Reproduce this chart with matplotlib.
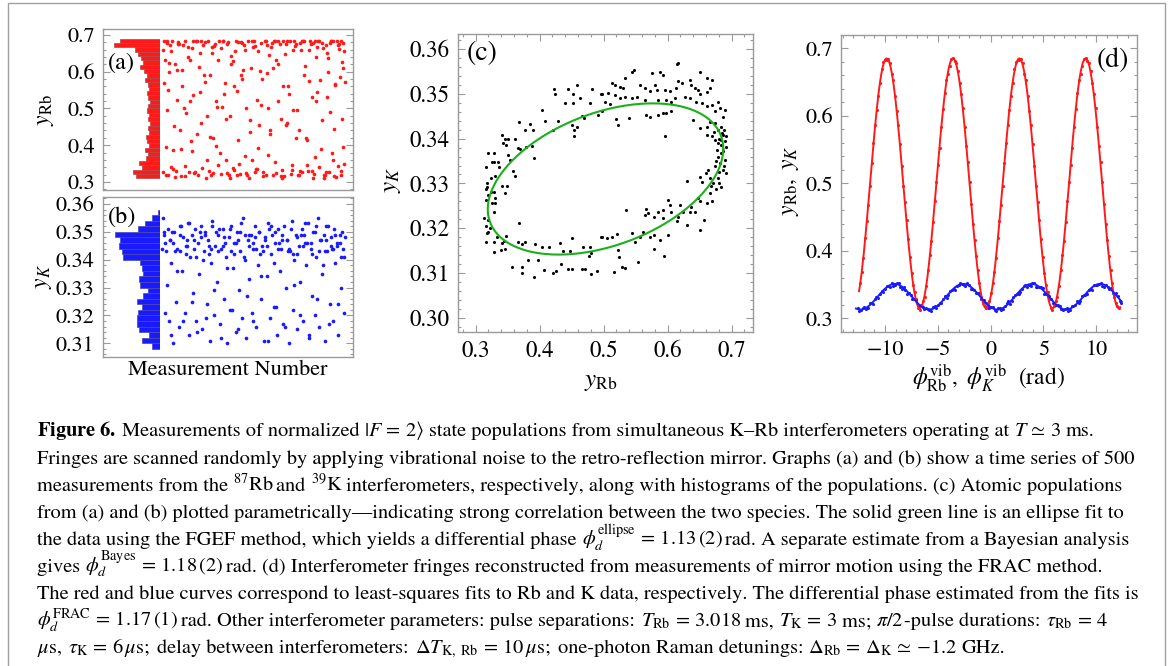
import numpy as np
import matplotlib
matplotlib.use('Agg')
import matplotlib.pyplot as plt
from matplotlib.ticker import MultipleLocator, FormatStrFormatter
from matplotlib.patches import Rectangle

plt.rcParams['font.family'] = 'STIXGeneral'
plt.rcParams['mathtext.fontset'] = 'stix'

W, H = 1168, 666

# ---------------- data ----------------
# (a) Rb time series: measurement number, population
a_meas = [13, 26, 20, 40, 8, 17, 13, 10, 4, 17, 36, 31, 40, 49, 58, 54, 67, 63, 77, 86, 81, 90,
          95, 104, 108, 118, 122, 131, 136, 140, 149, 154, 159, 168, 172, 177, 186, 195, 200, 204,
          209, 218, 222, 231, 241, 245, 250, 259, 263, 272, 277, 286, 295, 300, 304, 313, 318, 327,
          332, 341, 345, 354, 359, 368, 377, 382, 391, 395, 404, 409, 418, 423, 432, 436, 445, 450,
          459, 464, 473, 477, 482, 491, 496, 494,
          5, 22, 30, 45, 52, 70, 74, 84, 99, 112, 115, 126, 128, 145, 152, 162, 165, 180, 183, 190,
          198, 208, 212, 226, 228, 235, 238, 255, 258, 268, 281, 284, 292, 308, 310, 322, 325, 336,
          338, 350, 352, 364, 372, 386, 388, 398, 412, 414, 428, 430, 440, 448, 455, 466, 470, 480,
          486, 488, 498, 500, 60, 105, 140, 175, 215, 265, 290, 330, 375, 420, 460, 492,
          3, 11, 19, 27, 33, 39, 47, 56, 62, 72, 79, 88, 93, 101, 110, 119, 124, 133, 138, 147,
          156, 161, 170, 178, 186, 193, 203, 210, 219, 224, 233, 240, 247, 253, 262, 270, 276, 283,
          289, 297, 303, 311, 316, 324, 333, 340, 347, 356, 361, 367, 374, 380, 389, 396, 402, 407,
          416, 421, 426, 434, 442, 447, 452, 457, 463, 471, 476, 484, 489, 497,
          7, 15, 24, 35, 43, 51, 64, 76, 83, 97, 107, 121, 131, 143, 150, 167, 174, 188, 196, 206,
          217, 229, 243, 251, 260, 274, 287, 295, 306, 318, 328, 343, 357, 366, 378, 384, 393, 401,
          411, 419, 425, 438, 444, 453, 461, 468, 474, 483, 490, 495]
a_yrb = [0.677, 0.655, 0.623, 0.605, 0.632, 0.550, 0.496, 0.396, 0.328, 0.319, 0.314, 0.387, 0.523,
         0.441, 0.673, 0.605, 0.487, 0.342, 0.632, 0.537, 0.383, 0.328, 0.682, 0.650, 0.460, 0.573,
         0.360, 0.423, 0.668, 0.324, 0.519, 0.632, 0.378, 0.682, 0.568, 0.324, 0.478, 0.337, 0.655,
         0.546, 0.414, 0.677, 0.605, 0.324, 0.469, 0.360, 0.668, 0.523, 0.392, 0.677, 0.328, 0.596,
         0.441, 0.677, 0.319, 0.632, 0.519, 0.333, 0.682, 0.460, 0.560, 0.346, 0.659, 0.496, 0.677,
         0.328, 0.614, 0.414, 0.682, 0.532, 0.369, 0.668, 0.578, 0.469, 0.319, 0.650, 0.677, 0.378,
         0.564, 0.682, 0.342, 0.627, 0.677, 0.396,
         0.684, 0.672, 0.335, 0.680, 0.317, 0.640, 0.326, 0.682, 0.318, 0.673, 0.592, 0.684, 0.330,
         0.676, 0.345, 0.664, 0.505, 0.681, 0.318, 0.620, 0.333, 0.680, 0.322, 0.660, 0.370, 0.684,
         0.310, 0.671, 0.336, 0.602, 0.683, 0.320, 0.645, 0.683, 0.355, 0.674, 0.317, 0.648, 0.455,
         0.684, 0.322, 0.671, 0.318, 0.683, 0.590, 0.330, 0.678, 0.312, 0.684, 0.340, 0.665, 0.326,
         0.600, 0.684, 0.315, 0.672, 0.585, 0.330, 0.655, 0.572, 0.500, 0.545, 0.420, 0.470, 0.590,
         0.455, 0.500, 0.560, 0.440, 0.520, 0.490, 0.470,
         0.660, 0.318, 0.600, 0.684, 0.452, 0.330, 0.676, 0.560, 0.315, 0.668, 0.412, 0.325, 0.684,
         0.612, 0.338, 0.680, 0.480, 0.318, 0.650, 0.398, 0.683, 0.322, 0.540, 0.676, 0.312, 0.630,
         0.684, 0.350, 0.580, 0.672, 0.320, 0.436, 0.682, 0.328, 0.655, 0.510, 0.317, 0.684, 0.372,
         0.668, 0.610, 0.325, 0.684, 0.470, 0.316, 0.676, 0.540, 0.333, 0.682, 0.420, 0.318, 0.660,
         0.684, 0.345, 0.575, 0.676, 0.321, 0.640, 0.684, 0.390, 0.318, 0.672, 0.530, 0.328, 0.683,
         0.445, 0.314, 0.662, 0.684, 0.350,
         0.570, 0.683, 0.340, 0.620, 0.676, 0.390, 0.684, 0.520, 0.664, 0.430, 0.682, 0.312, 0.590,
         0.670, 0.505, 0.684, 0.360, 0.642, 0.560, 0.318, 0.680, 0.500, 0.611, 0.684, 0.335, 0.580,
         0.672, 0.430, 0.684, 0.622, 0.312, 0.684, 0.495, 0.675, 0.330, 0.684, 0.420, 0.660, 0.330,
         0.683, 0.545, 0.678, 0.312, 0.636, 0.684, 0.360, 0.566, 0.676, 0.318, 0.610]

# (a) histogram of y_Rb (counts per bin, bottom to top)
a_hist_counts = [24, 27, 18, 21, 14, 12, 15, 11, 13, 14, 11, 12, 10, 12, 11, 13,
                 12, 10, 12, 13, 11, 12, 15, 13, 16, 20, 17, 19, 22, 25, 46, 40]
a_hist_range = (0.31, 0.69)

# (b) K time series
b_meas = (list(range(2, 500, 4)) + [500] + list(range(8, 489, 20)) +
          [1, 9, 17, 25, 31, 41, 49, 57, 65, 73, 81, 87, 97, 105, 113, 121, 129, 137, 143, 153,
           161, 169, 177, 185, 191, 201, 209, 217, 225, 233, 239, 249, 257, 265, 271, 281, 289,
           297, 305, 311, 321, 329, 335, 345, 353, 361, 369, 377, 385, 391, 401, 409, 417, 425,
           433, 439, 449, 457, 465, 473, 481, 487, 497,
           5, 21, 37, 53, 69, 93, 117, 133, 157, 173, 197, 213, 237, 253, 277, 293, 317, 341,
           357, 381, 397, 421, 445, 461, 477, 493])
b_yk = [0.355, 0.349, 0.343, 0.331, 0.318, 0.347, 0.339, 0.310, 0.350, 0.325, 0.344, 0.316, 0.352,
        0.336, 0.348, 0.321, 0.345, 0.353, 0.313, 0.341, 0.349, 0.328, 0.351, 0.318, 0.346, 0.335,
        0.352, 0.315, 0.343, 0.350, 0.324, 0.347, 0.311, 0.339, 0.354, 0.320, 0.345, 0.332, 0.349,
        0.317, 0.344, 0.351, 0.326, 0.341, 0.310, 0.348, 0.322, 0.352, 0.337, 0.346, 0.314, 0.350,
        0.329, 0.343, 0.319, 0.355, 0.340, 0.312, 0.347, 0.333, 0.349, 0.321, 0.344, 0.352, 0.316,
        0.338, 0.350, 0.326, 0.345, 0.311, 0.348, 0.334, 0.353, 0.319, 0.342, 0.349, 0.323, 0.346,
        0.313, 0.351, 0.336, 0.344, 0.317, 0.352, 0.330, 0.347, 0.310, 0.343, 0.354, 0.322, 0.340,
        0.349, 0.315, 0.345, 0.332, 0.351, 0.318, 0.346, 0.338, 0.353, 0.312, 0.344, 0.327, 0.350,
        0.320, 0.341, 0.355, 0.316, 0.347, 0.335, 0.349, 0.311, 0.343, 0.352, 0.324, 0.345, 0.318,
        0.351, 0.339, 0.346, 0.313, 0.349, 0.330, 0.344, 0.321, 0.348,
        0.346, 0.350, 0.343, 0.347, 0.344, 0.348, 0.342, 0.350, 0.345, 0.343, 0.347, 0.349, 0.346,
        0.342, 0.345, 0.350, 0.347, 0.344, 0.342, 0.349, 0.346, 0.343, 0.347, 0.344, 0.341,
        0.344, 0.321, 0.351, 0.313, 0.346, 0.336, 0.349, 0.318, 0.342, 0.353, 0.325, 0.347, 0.314,
        0.350, 0.340, 0.319, 0.345, 0.352, 0.329, 0.343, 0.312, 0.348, 0.337, 0.351, 0.322, 0.346,
        0.315, 0.353, 0.341, 0.327, 0.349, 0.318, 0.344, 0.350, 0.334, 0.347, 0.311, 0.352, 0.339,
        0.323, 0.346, 0.349, 0.316, 0.343, 0.351, 0.331, 0.348, 0.320, 0.345, 0.353, 0.313, 0.342,
        0.350, 0.326, 0.347, 0.338, 0.352, 0.317, 0.344, 0.349, 0.324, 0.346, 0.341,
        0.350, 0.347, 0.343, 0.352, 0.345, 0.341, 0.349, 0.344, 0.351, 0.346, 0.342, 0.350, 0.345,
        0.348, 0.343, 0.351, 0.344, 0.347, 0.342, 0.349, 0.346, 0.352, 0.343, 0.348, 0.345, 0.350]

# (b) histogram of y_K (bottom to top)
b_hist_counts = [8, 18, 11, 21, 23, 23, 22, 18, 23, 17, 12, 20, 21, 17, 18, 20,
                 37, 38, 41, 40, 45, 22, 15, 8, 2]
b_hist_range = (0.308, 0.358)

# (c) parametric plot: pairs (y_Rb, y_K)
c_yrb = [0.424, 0.422, 0.445, 0.452, 0.459, 0.439, 0.452, 0.463, 0.482, 0.496, 0.404, 0.408, 0.428,
         0.421, 0.368, 0.385, 0.377, 0.389, 0.361, 0.367, 0.341, 0.346, 0.350, 0.343, 0.348, 0.369,
         0.379, 0.388, 0.391, 0.351, 0.354, 0.320, 0.329, 0.326, 0.329, 0.316, 0.335, 0.337, 0.331,
         0.324, 0.341, 0.359, 0.361, 0.349, 0.346, 0.318, 0.318, 0.317, 0.319, 0.317, 0.324, 0.329,
         0.331, 0.326, 0.330, 0.328, 0.313, 0.320, 0.317, 0.322, 0.320, 0.318, 0.368, 0.316, 0.329,
         0.334, 0.341, 0.345, 0.348, 0.328, 0.339, 0.346, 0.366, 0.377, 0.373, 0.393, 0.404, 0.414,
         0.432, 0.437, 0.447, 0.451, 0.468, 0.479, 0.496, 0.357, 0.372, 0.372, 0.382, 0.397, 0.391,
         0.407, 0.421, 0.426, 0.434, 0.445, 0.450, 0.467, 0.471, 0.481, 0.477, 0.480, 0.490, 0.450,
         0.454, 0.459, 0.454, 0.466, 0.470, 0.491, 0.498, 0.479,
         0.617, 0.614, 0.548, 0.545, 0.533, 0.575, 0.588, 0.593, 0.650, 0.661, 0.670, 0.513, 0.518,
         0.526, 0.531, 0.497, 0.507, 0.518, 0.557, 0.565, 0.572, 0.580, 0.583, 0.596, 0.603, 0.613,
         0.617, 0.622, 0.635, 0.637, 0.643, 0.648, 0.650, 0.661, 0.666, 0.526, 0.533, 0.544, 0.552,
         0.565, 0.502, 0.510, 0.585, 0.598, 0.606, 0.611, 0.627, 0.635, 0.645, 0.653, 0.661, 0.669,
         0.674, 0.679, 0.682, 0.686, 0.690, 0.567, 0.572, 0.585, 0.593, 0.598, 0.606, 0.520, 0.523,
         0.539, 0.639, 0.650, 0.662, 0.666, 0.674, 0.679, 0.684, 0.596, 0.662, 0.669, 0.674, 0.679,
         0.684, 0.687, 0.688, 0.691, 0.677, 0.684, 0.690, 0.682, 0.674, 0.687, 0.692, 0.650, 0.653,
         0.660, 0.666, 0.671, 0.679, 0.684, 0.631, 0.666, 0.670, 0.661, 0.648, 0.650, 0.637, 0.643,
         0.635, 0.619, 0.624, 0.617, 0.601, 0.604, 0.593, 0.606, 0.614, 0.630, 0.650, 0.657, 0.567,
         0.570, 0.565, 0.578, 0.585, 0.593, 0.535, 0.562, 0.572, 0.578, 0.588, 0.601, 0.544, 0.549,
         0.557, 0.578, 0.594, 0.523, 0.524, 0.528, 0.533, 0.517, 0.554, 0.497, 0.505, 0.513, 0.521,
         0.680, 0.683, 0.686, 0.678, 0.688, 0.680, 0.676, 0.685, 0.672, 0.689, 0.675, 0.668, 0.681,
         0.663, 0.691]
c_yk = [0.3500, 0.3510, 0.3510, 0.3500, 0.3520, 0.3480, 0.3480, 0.3490, 0.3510, 0.3500, 0.3464,
        0.3440, 0.3440, 0.3420, 0.3438, 0.3432, 0.3420, 0.3420, 0.3400, 0.3380, 0.3408, 0.3400,
        0.3400, 0.3390, 0.3386, 0.3378, 0.3382, 0.3384, 0.3356, 0.3364, 0.3353, 0.3369, 0.3368,
        0.3347, 0.3347, 0.3336, 0.3347, 0.3336, 0.3317, 0.3312, 0.3295, 0.3327, 0.3316, 0.3295,
        0.3278, 0.3302, 0.3293, 0.3287, 0.3274, 0.3263, 0.3280, 0.3280, 0.3267, 0.3256, 0.3257,
        0.3237, 0.3222, 0.3218, 0.3205, 0.3200, 0.3192, 0.3189, 0.3212, 0.3170, 0.3170, 0.3180,
        0.3166, 0.3172, 0.3183, 0.3147, 0.3151, 0.3154, 0.3170, 0.3170, 0.3165, 0.3165, 0.3159,
        0.3157, 0.3167, 0.3150, 0.3148, 0.3177, 0.3159, 0.3157, 0.3181, 0.3114, 0.3114, 0.3099,
        0.3129, 0.3129, 0.3090, 0.3107, 0.3100, 0.3105, 0.3120, 0.3108, 0.3108, 0.3108, 0.3108,
        0.3097, 0.3138, 0.3144, 0.3105, 0.3431, 0.3420, 0.3426, 0.3406, 0.3450, 0.3446, 0.3453,
        0.3462, 0.3479,
        0.3570, 0.3566, 0.3554, 0.3550, 0.3535, 0.3546, 0.3548, 0.3543, 0.3550, 0.3535, 0.3531,
        0.3524, 0.3520, 0.3516, 0.3513, 0.3500, 0.3502, 0.3498, 0.3520, 0.3513, 0.3507, 0.3520,
        0.3509, 0.3509, 0.3507, 0.3513, 0.3528, 0.3524, 0.3531, 0.3520, 0.3513, 0.3509, 0.3500,
        0.3505, 0.3513, 0.3490, 0.3494, 0.3490, 0.3494, 0.3487, 0.3483, 0.3478, 0.3487, 0.3487,
        0.3483, 0.3490, 0.3494, 0.3490, 0.3483, 0.3479, 0.3472, 0.3475, 0.3461, 0.3483, 0.3468,
        0.3449, 0.3464, 0.3453, 0.3449, 0.3453, 0.3457, 0.3457, 0.3461, 0.3443, 0.3431, 0.3446,
        0.3442, 0.3423, 0.3427, 0.3438, 0.3435, 0.3420, 0.3427, 0.3405, 0.3408, 0.3405, 0.3397,
        0.3390, 0.3397, 0.3408, 0.3420, 0.3382, 0.3375, 0.3367, 0.3352, 0.3345, 0.3338, 0.3330,
        0.3323, 0.3315, 0.3304, 0.3323, 0.3312, 0.3300, 0.3312, 0.3293, 0.3306, 0.3278, 0.3260,
        0.3256, 0.3267, 0.3260, 0.3248, 0.3237, 0.3237, 0.3252, 0.3237, 0.3226, 0.3263, 0.3252,
        0.3241, 0.3237, 0.3215, 0.3207, 0.3196, 0.3218, 0.3244, 0.3233, 0.3229, 0.3226, 0.3237,
        0.3222, 0.3241, 0.3192, 0.3181, 0.3185, 0.3174, 0.3185, 0.3189, 0.3170, 0.3181, 0.3153,
        0.3138, 0.3151, 0.3136, 0.3114, 0.3110, 0.3103, 0.3125, 0.3181, 0.3177, 0.3181, 0.3187,
        0.3400, 0.3385, 0.3372, 0.3360, 0.3340, 0.3325, 0.3350, 0.3412, 0.3415, 0.3395, 0.3288,
        0.3295, 0.3302, 0.3330, 0.3405]

# (c) ellipse fit: centre, amplitudes and differential phase
ell_x0, ell_y0 = 0.503, 0.331
ell_ax, ell_ay = 0.184, 0.0169
ell_phid = 1.16

# (d) fringes vs vibration phase
d_rb_phi = [-12.36, -12.05, -11.73, -11.42, -11.10, -10.79, -10.47, -10.16, -9.85, -9.53, -9.22,
            -8.90, -8.59, -8.27, -7.96, -7.65, -7.33, -7.02, -6.70, -6.39, -6.08, -5.76, -5.45,
            -5.13, -4.82, -4.50, -4.19, -3.88, -3.56, -3.25, -2.93, -2.62, -2.31, -1.99, -1.68,
            -1.36, -1.05, -0.73, -0.42, -0.11, 0.21, 0.52, 0.84, 1.15, 1.46, 1.78, 2.09, 2.41,
            2.72, 3.04, 3.35, 3.66, 3.98, 4.29, 4.61, 4.92, 5.24, 5.55, 5.86, 6.18, 6.49, 6.81,
            7.12, 7.44, 7.75, 8.06, 8.38, 8.69, 9.01, 9.32, 9.63, 9.95, 10.26, 10.58, 10.89, 11.21,
            11.52, 11.84, 12.15,
            -12.20, -11.89, -11.57, -11.26, -10.94, -10.63, -10.31, -10.00, -9.69, -9.37, -9.06,
            -8.74, -8.43, -8.11, -7.80, -7.49, -7.17, -6.86, -6.54, -6.23, -5.92, -5.60, -5.29,
            -4.97, -4.66, -4.34, -4.03, -3.72, -3.40, -3.09, -2.77, -2.46, -2.15, -1.83, -1.52,
            -1.20, -0.89, -0.57, -0.26, 0.05, 0.37, 0.68, 1.00, 1.31, 1.63, 1.94, 2.25, 2.57,
            2.88, 3.20, 3.51, 3.83, 4.14, 4.45, 4.77, 5.08, 5.40, 5.71, 6.03, 6.34, 6.65, 6.97,
            7.28, 7.60, 7.91, 8.23, 8.54, 8.86, 9.17, 9.48, 9.80, 10.11, 10.43, 10.74, 11.06,
            11.37, 11.69, 12.00]
d_rb_y = [0.353, 0.389, 0.444, 0.496, 0.559, 0.609, 0.649, 0.680, 0.682, 0.678, 0.653, 0.607,
          0.558, 0.496, 0.445, 0.391, 0.349, 0.328, 0.312, 0.326, 0.348, 0.394, 0.442, 0.502,
          0.553, 0.610, 0.653, 0.674, 0.685, 0.678, 0.648, 0.612, 0.556, 0.502, 0.439, 0.392,
          0.353, 0.322, 0.315, 0.326, 0.353, 0.389, 0.444, 0.496, 0.559, 0.609, 0.649, 0.680,
          0.682, 0.678, 0.653, 0.607, 0.558, 0.496, 0.445, 0.391, 0.349, 0.328, 0.312, 0.326,
          0.348, 0.394, 0.442, 0.502, 0.553, 0.610, 0.653, 0.674, 0.685, 0.678, 0.648, 0.612,
          0.556, 0.502, 0.439, 0.392, 0.353, 0.322, 0.315,
          0.368, 0.419, 0.468, 0.530, 0.586, 0.629, 0.669, 0.682, 0.684, 0.662, 0.630, 0.587,
          0.526, 0.472, 0.418, 0.367, 0.339, 0.316, 0.318, 0.332, 0.371, 0.415, 0.474, 0.527,
          0.584, 0.634, 0.662, 0.684, 0.681, 0.667, 0.633, 0.583, 0.532, 0.469, 0.416, 0.372,
          0.332, 0.318, 0.315, 0.337, 0.368, 0.419, 0.468, 0.530, 0.586, 0.629, 0.669, 0.682,
          0.684, 0.662, 0.630, 0.587, 0.526, 0.472, 0.418, 0.367, 0.339, 0.316, 0.318, 0.332,
          0.371, 0.415, 0.474, 0.527, 0.584, 0.634, 0.662, 0.684, 0.681, 0.667, 0.633, 0.583,
          0.532, 0.469, 0.416, 0.372, 0.332, 0.318]

d_k_phi = [-12.60, -12.28, -11.95, -11.63, -11.30, -10.98, -10.65, -10.33, -10.00, -9.68, -9.36,
           -9.03, -8.71, -8.38, -8.06, -7.73, -7.41, -7.08, -6.76, -6.43, -6.11, -5.79, -5.46,
           -5.14, -4.81, -4.49, -4.16, -3.84, -3.51, -3.19, -2.87, -2.54, -2.22, -1.89, -1.57,
           -1.24, -0.92, -0.59, -0.27, 0.06, 0.38, 0.70, 1.03, 1.35, 1.68, 2.00, 2.33, 2.65,
           2.98, 3.30, 3.63, 3.95, 4.27, 4.60, 4.92, 5.25, 5.57, 5.90, 6.22, 6.55, 6.87, 7.20,
           7.52, 7.84, 8.17, 8.49, 8.82, 9.14, 9.47, 9.79, 10.12, 10.44, 10.77, 11.09, 11.41,
           11.74, 12.06, 12.39,
           -12.44, -12.12, -11.79, -11.47, -11.14, -10.82, -10.49, -10.17, -9.84, -9.52, -9.20,
           -8.87, -8.55, -8.22, -7.90, -7.57, -7.25, -6.92, -6.60, -6.27, -5.95, -5.63, -5.30,
           -4.98, -4.65, -4.33, -4.00, -3.68, -3.35, -3.03, -2.71, -2.38, -2.06, -1.73, -1.41,
           -1.08, -0.76, -0.43, -0.11, 0.22, 0.54, 0.86, 1.19, 1.51, 1.84, 2.16, 2.49, 2.81,
           3.14, 3.46, 3.79, 4.11, 4.43, 4.76, 5.08, 5.41, 5.73, 6.06, 6.38, 6.71, 7.03, 7.36,
           7.68, 8.00, 8.33, 8.65, 8.98, 9.30, 9.63, 9.95, 10.28, 10.60, 10.93, 11.25, 11.57,
           11.90, 12.22]
d_k_y = [0.316, 0.312, 0.317, 0.315, 0.322, 0.328, 0.330, 0.341, 0.343, 0.348, 0.352, 0.350,
         0.352, 0.344, 0.342, 0.338, 0.328, 0.327, 0.319, 0.317, 0.316, 0.312, 0.317, 0.315,
         0.322, 0.328, 0.330, 0.341, 0.343, 0.348, 0.352, 0.350, 0.352, 0.344, 0.342, 0.338,
         0.328, 0.327, 0.319, 0.317, 0.313, 0.315, 0.312, 0.318, 0.325, 0.326, 0.335, 0.336,
         0.344, 0.349, 0.349, 0.353, 0.347, 0.347, 0.345, 0.336, 0.333, 0.322, 0.320, 0.318,
         0.313, 0.315, 0.312, 0.318, 0.325, 0.326, 0.335, 0.336, 0.344, 0.349, 0.349, 0.353,
         0.347, 0.347, 0.345, 0.336, 0.333, 0.322,
         0.311, 0.316, 0.314, 0.322, 0.321, 0.331, 0.336, 0.339, 0.348, 0.347, 0.348, 0.352,
         0.346, 0.347, 0.336, 0.335, 0.328, 0.320, 0.320, 0.314, 0.314, 0.311, 0.318, 0.320,
         0.323, 0.333, 0.334, 0.342, 0.342, 0.350, 0.351, 0.348, 0.349, 0.344, 0.338, 0.337,
         0.326, 0.323, 0.315, 0.317, 0.311, 0.316, 0.314, 0.322, 0.321, 0.331, 0.336, 0.339,
         0.348, 0.347, 0.348, 0.352, 0.346, 0.347, 0.336, 0.335, 0.328, 0.320, 0.320, 0.314,
         0.314, 0.311, 0.318, 0.320, 0.323, 0.333, 0.334, 0.342, 0.342, 0.350, 0.351, 0.348,
         0.349, 0.344, 0.338, 0.337, 0.326]

# (d) least-squares sinusoid fits: offset, amplitude, frequency, peak phase, range
rb_fit = dict(off=0.500, amp=0.185, k=1.0, peak=2.72, lo=-12.46, hi=12.27)
k_fit = dict(off=0.332, amp=0.019, k=0.968, peak=3.90, lo=-12.75, hi=12.43)

caption = [
    r"$\mathbf{Figure\ 6.}$ Measurements of normalized $|F\, =\, 2\rangle$ state populations from simultaneous K–Rb interferometers operating at $T\,\simeq\,3$ ms.",
    "Fringes are scanned randomly by applying vibrational noise to the retro-reflection mirror. Graphs (a) and (b) show a time series of 500",
    r"measurements from the $^{87}\mathrm{Rb}$ and $^{39}\mathrm{K}$ interferometers, respectively, along with histograms of the populations. (c) Atomic populations",
    "from (a) and (b) plotted parametrically—indicating strong correlation between the two species. The solid green line is an ellipse fit to",
    r"the data using the FGEF method, which yields a differential phase $\phi_d^{\mathrm{ellipse}}\, =\, 1.13\,(2)$ rad. A separate estimate from a Bayesian analysis",
    r"gives $\phi_d^{\mathrm{Bayes}}\, =\, 1.18\,(2)$ rad. (d) Interferometer fringes reconstructed from measurements of mirror motion using the FRAC method.",
    "The red and blue curves correspond to least-squares fits to Rb and K data, respectively. The differential phase estimated from the fits is",
    r"$\phi_d^{\mathrm{FRAC}}\, =\, 1.17\,(1)$ rad. Other interferometer parameters: pulse separations: $T_{\mathrm{Rb}}\, =\, 3.018$ ms, $T_{\mathrm{K}}\, =\, 3$ ms; $\pi/2$-pulse durations: $\tau_{\mathrm{Rb}}\, =\, 4$",
    r"$\mu\mathrm{s},$ $\tau_{\mathrm{K}}\, =\, 6\,\mu\mathrm{s};$ delay between interferometers: $\Delta T_{\mathrm{K,\ Rb}}\, =\, 10\,\mu\mathrm{s};$ one-photon Raman detunings: $\Delta_{\mathrm{Rb}}\, =\, \Delta_{\mathrm{K}}\, \simeq\,{-1.2}$ GHz.",
]

# ---------------- layout helpers ----------------
FRAME = '#9a9a9a'
RED, BLUE, GREEN = '#ff1a1a', '#1a1aff', '#19b019'


def box(l, t, r, b):
    return [l / W, 1 - b / H, (r - l) / W, (b - t) / H]


def fpt(x, y):
    return x / W, 1 - y / H


def style(ax, xminor=None, yminor=None, xticks=True):
    for s in ax.spines.values():
        s.set_color(FRAME)
        s.set_linewidth(1.0)
    ax.tick_params(which='both', direction='in', colors=FRAME, labelcolor='black',
                   top=True, right=True, labelsize=16, width=0.8)
    ax.tick_params(which='major', length=5, pad=6)
    ax.tick_params(which='minor', length=2.5)
    if xminor:
        ax.xaxis.set_minor_locator(MultipleLocator(xminor))
    if yminor:
        ax.yaxis.set_minor_locator(MultipleLocator(yminor))
    if not xticks:
        ax.set_xticks([])
        ax.tick_params(axis='x', which='both', bottom=False, top=False)


fig = plt.figure(figsize=(W / 100, H / 100), dpi=100)
fig.patches.append(Rectangle((8 / W, -0.01), 1157 / W, 1 - 3 / H + 0.01, transform=fig.transFigure,
                             fill=False, edgecolor='#a0a0a0', lw=1.0))

meas_lim = (-161, 522)
hist_frac = 57 / 250

# ---- (a)
ax_a = fig.add_axes(box(103, 29, 353, 190))
ax_a.scatter(a_meas, a_yrb, s=7, color=RED, linewidths=0)
ax_a.set_xlim(*meas_lim)
ax_a.set_ylim(0.278, 0.716)
ax_a.yaxis.set_major_locator(MultipleLocator(0.1))
ax_a.yaxis.set_major_formatter(FormatStrFormatter('%.1f'))
style(ax_a, yminor=0.02, xticks=False)
ha = ax_a.inset_axes([0, 0, hist_frac, 1], sharey=ax_a)
edges = np.linspace(*a_hist_range, len(a_hist_counts) + 1)
ha.barh(edges[:-1], a_hist_counts, height=np.diff(edges), align='edge',
        color=RED, edgecolor='#b04848', linewidth=0.5)
ha.set_xlim(57, 0)
ha.axis('off')
ha.patch.set_alpha(0)
fig.text(*fpt(108, 63), '(a)', fontsize=17.5, va='center', ha='left')
fig.text(*fpt(45, 110), r'$y_{\mathrm{Rb}}$', fontsize=17, rotation=90, va='center', ha='center')

# ---- (b)
ax_b = fig.add_axes(box(103, 197, 353, 357))
ax_b.scatter(b_meas, b_yk, s=7, color=BLUE, linewidths=0)
ax_b.set_xlim(*meas_lim)
ax_b.set_ylim(0.3051, 0.3625)
ax_b.yaxis.set_major_locator(MultipleLocator(0.01))
ax_b.yaxis.set_major_formatter(FormatStrFormatter('%.2f'))
style(ax_b, yminor=0.002, xticks=False)
hb = ax_b.inset_axes([0, 0, hist_frac, 1], sharey=ax_b)
edges = np.linspace(*b_hist_range, len(b_hist_counts) + 1)
hb.barh(edges[:-1], b_hist_counts, height=np.diff(edges), align='edge',
        color=BLUE, edgecolor='#4848b0', linewidth=0.5)
hb.set_xlim(57, 0)
hb.axis('off')
hb.patch.set_alpha(0)
fig.text(*fpt(108, 217), '(b)', fontsize=17.5, va='center', ha='left')
fig.text(*fpt(43, 277), r'$y_K$', fontsize=17, rotation=90, va='center', ha='center')
fig.text(*fpt(228, 370), 'Measurement Number', fontsize=16, va='center', ha='center')

# ---- (c)
ax_c = fig.add_axes(box(457.7, 34, 752.7, 332))
ax_c.scatter(c_yrb, c_yk, s=5, color='black', linewidths=0)
t = np.linspace(0, 2 * np.pi, 300)
ax_c.plot(ell_x0 + ell_ax * np.cos(t), ell_y0 + ell_ay * np.cos(t - ell_phid), color=GREEN, lw=1.5)
ax_c.set_xlim(0.272, 0.733)
ax_c.set_ylim(0.2968, 0.3634)
ax_c.xaxis.set_major_locator(MultipleLocator(0.1))
ax_c.xaxis.set_major_formatter(FormatStrFormatter('%.1f'))
ax_c.yaxis.set_major_locator(MultipleLocator(0.01))
ax_c.yaxis.set_major_formatter(FormatStrFormatter('%.2f'))
style(ax_c, xminor=0.02, yminor=0.002)
ax_c.tick_params(labelsize=16.5)
fig.text(*fpt(467, 53), '(c)', fontsize=20, va='center', ha='left')
fig.text(*fpt(391, 180), r'$y_K$', fontsize=18, rotation=90, va='center', ha='center')
fig.text(*fpt(601, 381), r'$y_{\mathrm{Rb}}$', fontsize=18, va='center', ha='center')

# ---- (d)
ax_d = fig.add_axes(box(841, 35, 1137.3, 331.7))
ax_d.scatter(d_rb_phi, d_rb_y, s=5, color=RED, linewidths=0)
ax_d.scatter(d_k_phi, d_k_y, s=5, color=BLUE, linewidths=0)
for f, col in ((rb_fit, RED), (k_fit, BLUE)):
    ph = np.linspace(f['lo'], f['hi'], 400)
    ax_d.plot(ph, f['off'] + f['amp'] * np.cos(f['k'] * (ph - f['peak'])), color=col, lw=1.4)
ax_d.set_xlim(-14.17, 13.9)
ax_d.set_ylim(0.2802, 0.7197)
ax_d.xaxis.set_major_locator(MultipleLocator(5))
ax_d.yaxis.set_major_locator(MultipleLocator(0.1))
ax_d.yaxis.set_major_formatter(FormatStrFormatter('%.1f'))
style(ax_d, xminor=1, yminor=0.02)
fig.text(*fpt(1097, 60), '(d)', fontsize=20, va='center', ha='left')
fig.text(*fpt(790, 181), r'$y_{\mathrm{Rb}},\ y_K$', fontsize=17, rotation=90, va='center', ha='center')
fig.text(*fpt(988, 378), r'$\phi_{\mathrm{Rb}}^{\mathrm{vib}},\ \phi_K^{\mathrm{vib}}\ \ (\mathrm{rad})$',
         fontsize=17, va='center', ha='center')

# ---- caption: each line is laid out in pieces (plain text / math) on a common baseline
renderer = fig.canvas.get_renderer()


def text_width(s, size):
    tmp = fig.text(0, 0, s, fontsize=size)
    w = tmp.get_window_extent(renderer).width
    tmp.remove()
    return w


def advance(prefix, size):
    # where the next glyph starts after `prefix`, measured with a trailing probe glyph
    w1 = text_width(prefix + 'x', size)
    w2 = text_width(prefix + 'xx', size)
    pen = 2 * w1 - w2
    if '$' in prefix:
        pen -= 3  # mathtext extents carry a little padding
    return pen


cap_left, cap_right = 37, 1142
cap_size = 14 * (cap_right - cap_left) / text_width(caption[1], 14)

for i, line in enumerate(caption):
    y = 436.5 + 27.1 * i
    prefix = ''
    last_right = 0
    for j, part in enumerate(line.split('$')):
        seg = '$' + part + '$' if j % 2 else part
        body = seg if j % 2 else part.lstrip(' ')
        lead = '' if j % 2 else part[:len(part) - len(body)]
        if body:
            x = cap_left + (advance(prefix + lead, cap_size) if prefix + lead else 0)
            if not lead:
                x = max(x, last_right)
            txt = fig.text(*fpt(x, y), body, fontsize=cap_size, va='baseline', ha='left')
            last_right = txt.get_window_extent(renderer).x1
        prefix += seg

fig.savefig('out.png', dpi=100)
